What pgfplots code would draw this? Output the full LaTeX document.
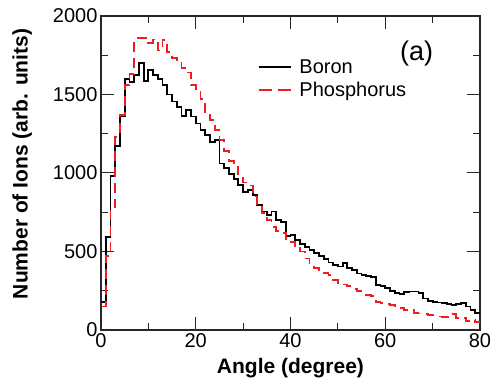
\documentclass[border=0pt]{standalone}
\usepackage{pgfplots}
\usepackage{pgfplotstable}
\pgfplotsset{compat=1.18}
\usepackage{fontspec}
\setmainfont{Liberation Sans}

\definecolor{phred}{RGB}{235,30,35}

% Angular distribution, 1-degree bins (left edge, count); last row closes the final bin
\pgfplotstableread{
angle count
0 180
1 590
2 980
3 1170
4 1360
5 1600
6 1580
7 1625
8 1700
9 1585
10 1655
11 1625
12 1600
13 1560
14 1500
15 1455
16 1420
17 1365
18 1400
19 1360
20 1315
21 1275
22 1240
23 1195
24 1210
25 1060
26 1030
27 995
28 960
29 925
30 880
31 890
32 860
33 795
34 755
35 735
36 755
37 700
38 690
39 600
40 605
41 575
42 550
43 530
44 510
45 490
46 470
47 450
48 430
49 415
50 405
51 425
52 395
53 380
54 360
55 350
56 345
57 340
58 285
59 280
60 265
61 250
62 235
63 230
64 240
65 245
66 245
67 235
68 200
69 185
70 180
71 175
72 170
73 165
74 160
75 165
76 170
77 150
78 125
79 110
80 110
}\boron

\pgfplotstableread{
angle count
0 150
1 470
2 780
3 1230
4 1370
5 1560
6 1630
7 1860
8 1860
9 1860
10 1830
11 1850
12 1780
13 1845
14 1770
15 1730
16 1700
17 1670
18 1640
19 1560
20 1535
21 1470
22 1390
23 1340
24 1275
25 1210
26 1140
27 1075
28 1040
29 990
30 940
31 920
32 850
33 800
34 745
35 700
36 655
37 630
38 620
39 570
40 560
41 520
42 500
43 455
44 415
45 395
46 380
47 365
48 350
49 320
50 300
51 290
52 278
53 262
54 250
55 235
56 225
57 215
58 180
59 172
60 168
61 158
62 150
63 140
64 128
65 125
66 108
67 105
68 100
69 96
70 92
71 86
72 85
73 84
74 100
75 75
76 78
77 55
78 65
79 50
80 50
}\phosphorus

\begin{document}
\begin{tikzpicture}
\useasboundingbox (-101bp,-55bp) rectangle (392bp,330bp);
\begin{axis}[
  scale only axis,
  width=379bp, height=314bp,
  xmin=0, xmax=80, ymin=0, ymax=2000,
  xtick={0,20,...,80}, minor xtick={10,30,50,70},
  ytick={0,500,...,2000}, minor ytick={250,750,1250,1750},
  scaled ticks=false,
  /pgf/number format/.cd, assume math mode=true, set thousands separator={},
  /pgfplots/.cd,
  tick align=inside,
  major tick length=13bp, minor tick length=7bp,
  tick style={line width=1bp, black!85},
  axis line style={line width=1.2bp, black!85},
  tick label style={font=\fontsize{20bp}{24bp}\selectfont},
  label style={font=\bfseries\fontsize{21bp}{25bp}\selectfont},
  xlabel={Angle (degree)},
  ylabel={Number of Ions (arb. units)},
  xlabel style={at={(axis description cs:0.5,-0.121)}, anchor=center},
  ylabel style={at={(axis description cs:-0.208,0.529)}, anchor=center},
  legend style={at={(axis description cs:0.405,0.875)}, anchor=north west,
    draw=none, fill=none, font=\fontsize{20bp}{24bp}\selectfont,
    row sep=3bp},
  legend cell align=left,
  legend image code/.code={\draw[#1] (0bp,0bp) -- (32bp,0bp);},
]
\addplot[const plot, black, line width=1.8bp] table[x=angle, y=count] {\boron};
\addlegendentry{\hspace{6bp}Boron}
\addplot[const plot, phred, line width=1.8bp, dash pattern=on 10bp off 6bp,
  legend image post style={dash pattern=on 13bp off 6bp}]
  table[x=angle, y=count] {\phosphorus};
\addlegendentry{\hspace{6bp}Phosphorus}
\node[font=\fontsize{27bp}{31bp}\selectfont] at (axis cs:66.6,1760) {(a)};
\end{axis}
\end{tikzpicture}
\end{document}
